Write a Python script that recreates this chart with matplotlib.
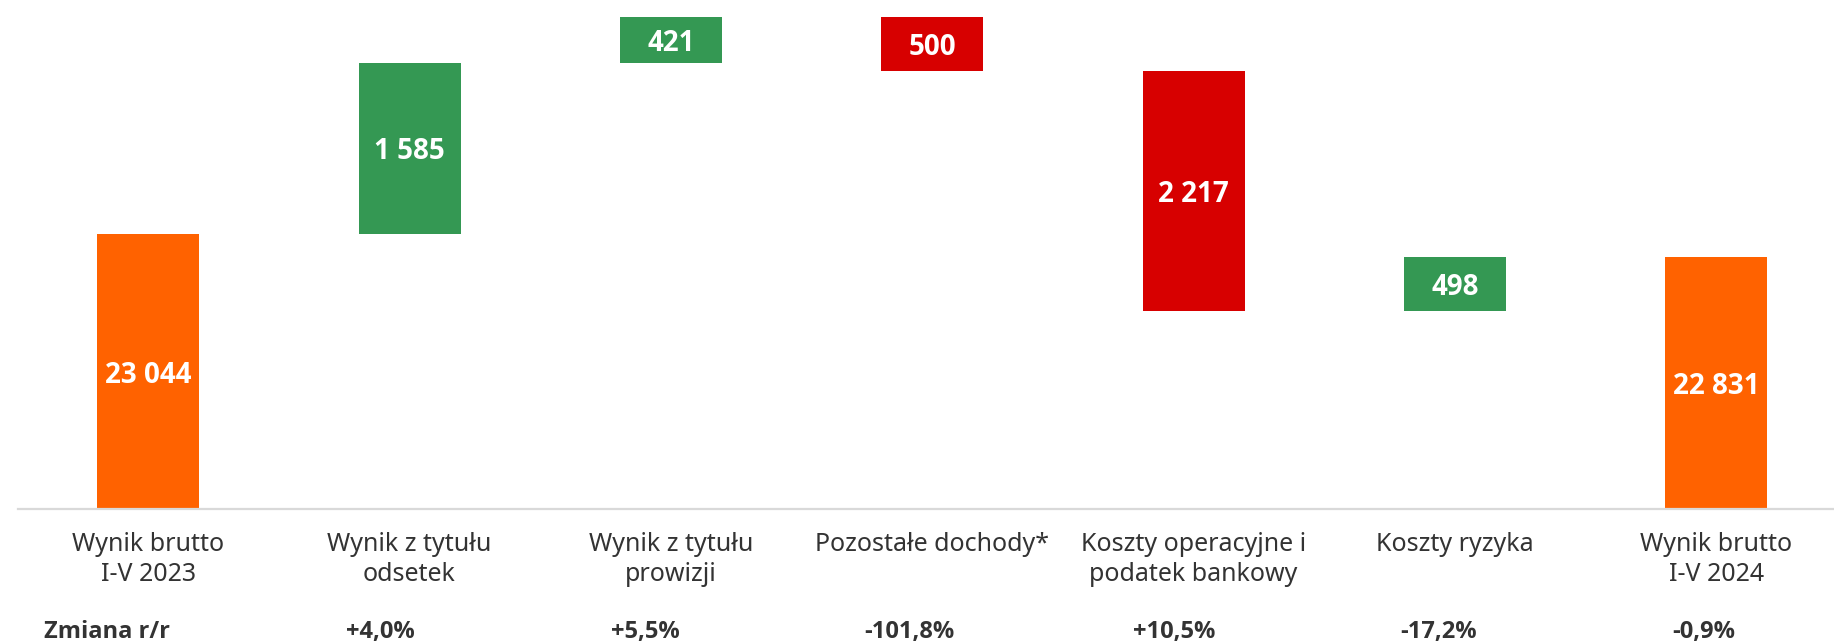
import matplotlib.pyplot as plt
import numpy as np

categories = ['Wynik brutto\nI-V 2023', 'Wynik z tytułu\nodsetek', 'Wynik z tytułu\nprowizji',
              'Pozostałe dochody*', 'Koszty operacyjne i\npodatek bankowy', 'Koszty ryzyka',
              'Wynik brutto\nI-V 2024']
values = [23044, 1585, 421, -500, -2217, 498, 22831]
kinds = ['total', 'delta', 'delta', 'delta', 'delta', 'delta', 'total']
value_labels = ['23 044', '1 585', '421', '500', '2 217', '498', '22 831']
change_title = 'Zmiana r/r'
changes = ['+4,0%', '+5,5%', '-101,8%', '+10,5%', '-17,2%', '-0,9%']

ORANGE = '#FF6200'
GREEN = '#349853'
RED = '#D70000'
YMIN = 20500
BOLD_FONT = ['Open Sans', 'DejaVu Sans']

plt.rcParams['font.family'] = ['Noto Sans', 'DejaVu Sans']

fig = plt.figure(figsize=(18.34, 6.43), dpi=100)
ax = fig.add_axes([17.5 / 1834, 1 - 509 / 643, 1 - 17.5 / 1834, 509 / 643])

# waterfall: running total
running = 0
for i, (v, k) in enumerate(zip(values, kinds)):
    if k == 'total':
        bottom, height, color = YMIN, v - YMIN, ORANGE
        running = v
    else:
        if v >= 0:
            bottom, height, color = running, v, GREEN
        else:
            bottom, height, color = running + v, -v, RED
        running += v
    ax.bar(i, height, bottom=bottom, width=0.39, color=color, zorder=2)
    ax.text(i, bottom + height / 2, value_labels[i], ha='center', va='center_baseline',
            color='white', fontsize=20, fontweight='bold', family=BOLD_FONT, zorder=3)

ax.set_xlim(-0.5, 6.45)
ax.set_ylim(YMIN, 25210)
for s in ['top', 'right', 'left']:
    ax.spines[s].set_visible(False)
ax.spines['bottom'].set_color('#d9d9d9')
ax.spines['bottom'].set_linewidth(1.6)
ax.set_xticks([])
ax.set_yticks([])

tr = ax.get_xaxis_transform()
for i, lab in enumerate(categories):
    ax.text(i, -0.045, lab, transform=tr, ha='center', va='top', fontsize=18,
            color='#333333', linespacing=1.25)

ax.text(-0.4, -0.241, change_title, transform=tr, ha='left', va='center',
        fontsize=17, fontweight='bold', family=BOLD_FONT, color='#333333')
xs = np.linspace(0.89, 5.95, len(changes))
for x, c in zip(xs, changes):
    ax.text(x, -0.241, c, transform=tr, ha='center', va='center',
            fontsize=17, fontweight='bold', family=BOLD_FONT, color='#333333')

fig.savefig('out.png', dpi=100)
